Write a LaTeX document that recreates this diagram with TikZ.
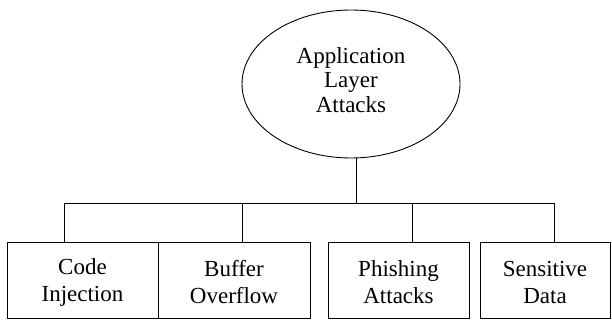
\documentclass[tikz,border=0pt]{standalone}
\usepackage{fontspec}
\setmainfont{Liberation Serif}
\usetikzlibrary{shapes.geometric}
\begin{document}
\begin{tikzpicture}[x=1pt,y=-1pt,
  line width=0.9pt,
  lbl/.style={font=\fontsize{23}{27}\selectfont, align=center, inner sep=0pt},
  leaf/.style={draw, minimum height=76pt, inner sep=0pt},
  link/.style={draw, line width=0.9pt}]
\useasboundingbox (0,0) rectangle (612,320);
\node[draw, ellipse, minimum width=218pt, minimum height=148pt] (root) at (351,84) {};
\node[lbl, font=\fontsize{23}{24.5}\selectfont] (rootlbl) at (351,80) {Application\\Layer\\Attacks};
\node[leaf, minimum width=151pt] (b1) at (82.5,280) {};
\node[leaf, minimum width=152pt] (b2) at (234,280) {};
\node[leaf, minimum width=141pt] (b3) at (398.5,280) {};
\node[leaf, minimum width=130pt] (b4) at (545,280) {};
\node[lbl] (t1) at (82.5,282) {Code\\Injection};
\node[lbl] (t2) at (234,282) {Buffer\\Overflow};
\node[lbl] (t3) at (398.5,282) {Phishing\\Attacks};
\node[lbl] (t4) at (545,282) {Sensitive\\Data};
\coordinate (hub) at (356,203);
\coordinate (h1) at (64,203);
\coordinate (h2) at (242,203);
\coordinate (h3) at (412,203);
\coordinate (h4) at (554,203);
\draw[link] (root.south -| hub) -- (hub);
\draw[link] (h1) -- (h4);
\draw[link] (h1) -- (b1.north -| h1);
\draw[link] (h2) -- (b2.north -| h2);
\draw[link] (h3) -- (b3.north -| h3);
\draw[link] (h4) -- (b4.north -| h4);
\end{tikzpicture}
\end{document}
